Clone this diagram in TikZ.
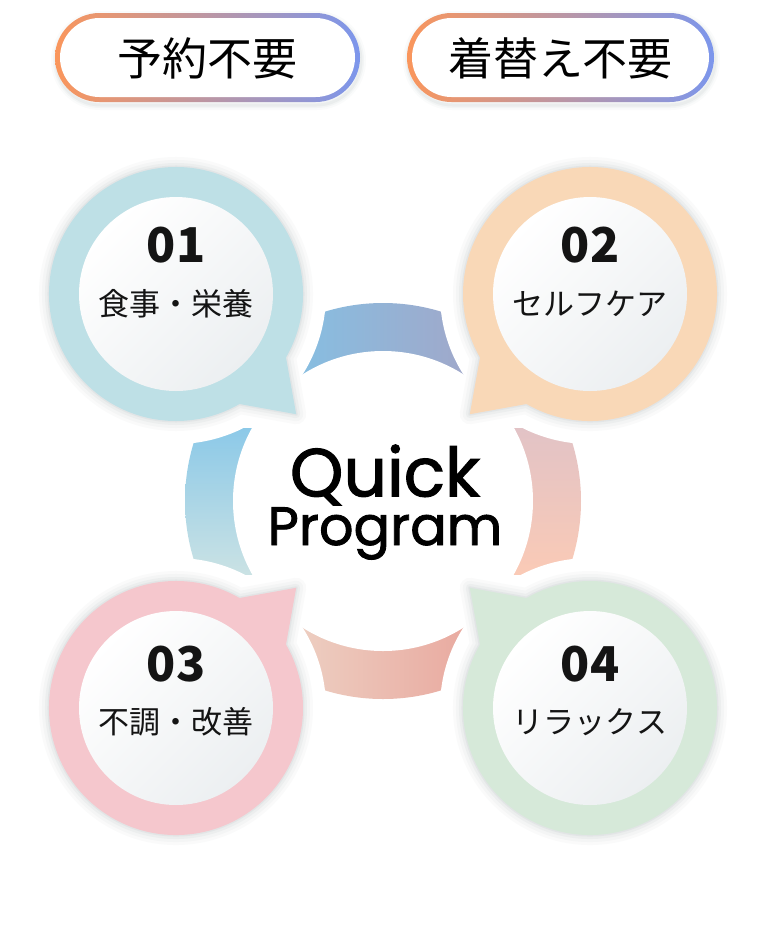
\documentclass[tikz,border=0pt]{standalone}
\usepackage{fontspec}
\newfontfamily\jp{Noto Sans CJK JP}
\newfontfamily\qp{Poppins}[FakeBold=1.6]
\usetikzlibrary{calc}
\definecolor{bA}{RGB}{190,224,230}
\definecolor{bB}{RGB}{249,216,183}
\definecolor{bC}{RGB}{245,199,205}
\definecolor{bD}{RGB}{214,233,217}
\definecolor{inG}{RGB}{236,239,241}
\definecolor{pA}{RGB}{250,150,92}
\definecolor{pB}{RGB}{250,196,206}
\definecolor{pC}{RGB}{124,150,236}
\definecolor{tA}{RGB}{135,190,225}
\definecolor{tB}{RGB}{160,168,202}
\definecolor{lA}{RGB}{140,201,232}
\definecolor{lB}{RGB}{202,226,228}
\definecolor{rA}{RGB}{226,195,198}
\definecolor{rB}{RGB}{250,202,182}
\definecolor{dA}{RGB}{237,206,193}
\definecolor{dB}{RGB}{233,170,160}
\definecolor{shd}{RGB}{120,135,140}
\newcommand\bubshape[2]{($(#1)+({#2+15}:127)$) arc[start angle={#2+15}, end angle={#2+345}, radius=127] -- ($(#1)+(#2:170)$) -- cycle}
\newcommand\bubble[3]{%
  \foreach \w/\o in {10/0.035,7/0.045,4/0.06,1.5/0.08}{%
    \draw[shd, line width=\w pt, line join=round, opacity=\o, shift={(3,-4)}] \bubshape{#1}{#2};}
  \fill[#3] \bubshape{#1}{#2};
  \shade[top color=white, bottom color=inG, shading angle=45] (#1) circle (97);}
\newcommand\pill[4]{%
  \foreach \w/\o in {5/0.03,3/0.05,1.5/0.07}{%
    \draw[shd, line width=\w pt, opacity=\o, rounded corners=22.25pt] (#1+1,#2-3) rectangle (#3+1,#4-3);}
  \shade[left color=pA, middle color=pB, right color=pC, rounded corners=22.25pt] (#1,#2) rectangle (#3,#4);
  \fill[white, rounded corners=19.75pt] (#1+5,#2-5) rectangle (#3-5,#4+5);}
\begin{document}
\begin{tikzpicture}[x=0.5pt,y=0.5pt,
  pilltext/.style={font=\jp\fontsize{22.5}{22.5}\selectfont, text=black},
  numtext/.style={font=\jp\bfseries\fontsize{24}{24}\selectfont, text=black!92},
  labtext/.style={font=\jp\fontsize{15.5}{15.5}\selectfont, text=black!92}]
\useasboundingbox (0,0) rectangle (768,-950);
\fill[white] (0,0) rectangle (768,-950);
% pills
\pill{55}{-13}{360}{-102}
\pill{407}{-13}{714}{-102}
\node[pilltext] (p1) at (207.5,-58) {予約不要};
\node[pilltext] (p2) at (560.5,-58) {着替え不要};
% ring segments
\coordinate (O) at (383,-501);
\coordinate (c1) at (176,-294);
\coordinate (c2) at (590,-294);
\coordinate (c3) at (176,-708);
\coordinate (c4) at (590,-708);
\begin{scope}
  \clip (O) circle (198);
  \shade[left color=tA, right color=tB] (300,-300) rectangle (466,-378);
  \shade[left color=dA, right color=dB] (300,-624) rectangle (466,-702);
  \shade[top color=lA, bottom color=lB] (183,-428) rectangle (262,-574);
  \shade[top color=rA, bottom color=rB] (504,-428) rectangle (583,-574);
\end{scope}
\fill[white] (O) circle (150);
\foreach \c in {c1,c2,c3,c4}{\fill[white] (\c) circle (150);}
% bubbles
\bubble{c1}{-45}{bA}
\bubble{c2}{-135}{bB}
\bubble{c3}{45}{bC}
\bubble{c4}{135}{bD}
\node[numtext] (n1) at (176,-245) {01};
\node[labtext] (l1) at (176,-304) {食事・栄養};
\node[numtext] (n2) at (590,-245) {02};
\node[labtext] (l2) at (590,-304) {セルフケア};
\node[numtext] (n3) at (176,-664) {03};
\node[labtext] (l3) at (176,-722) {不調・改善};
\node[numtext] (n4) at (590,-664) {04};
\node[labtext] (l4) at (590,-722) {リラックス};
% center text
\node[anchor=base, align=center, inner sep=0,
  font=\qp\fontsize{27}{21.5}\selectfont] (qp) at (385,-545)
  {\lineskiplimit=-100pt\relax{\fontsize{34}{21.5}\selectfont Quick}\\Program};
\end{tikzpicture}
\end{document}
